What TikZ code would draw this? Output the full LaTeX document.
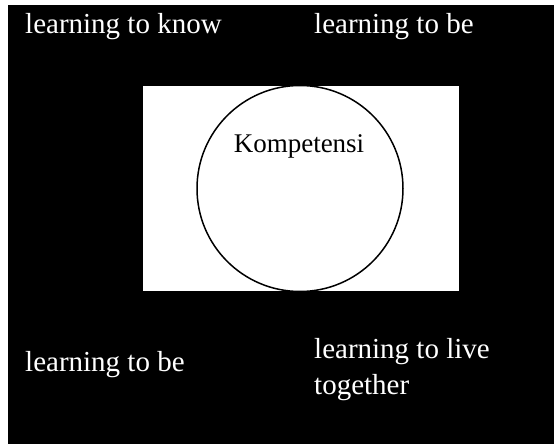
\documentclass[tikz,border=0pt]{standalone}
\usepackage{fontspec}
\setmainfont{Liberation Serif}
\tikzset{
	pillar/.style={text=white,inner sep=0pt,anchor=base west,align=left,
		font=\fontsize{29}{36}\selectfont},
	core/.style={circle,draw=black,line width=1.5pt,minimum size=206pt,inner sep=0pt},
}
\begin{document}
\begin{tikzpicture}[x=1pt,y=-1pt]
	\useasboundingbox (0,0) rectangle (554,444);
	\fill[black] (8,5) rectangle (554,444);
	\fill[white] (143,86) rectangle (459,291);
	\draw (300,188.5) node[core] (comp) {};
	\draw (299,152) node[anchor=base,inner sep=0pt,font=\fontsize{27}{32}\selectfont] (label) {Kompetensi};
	% the four pillars
	\draw (25,34) node[pillar] (know) {learning to know};
	\draw (314,34) node[pillar] (be) {learning to be};
	\draw (25,371) node[pillar] (bebottom) {learning to be};
	% base of a two-line node sits on its last line
	\draw (314,394) node[pillar] (live) {learning to live\\together};
\end{tikzpicture}
\end{document}
